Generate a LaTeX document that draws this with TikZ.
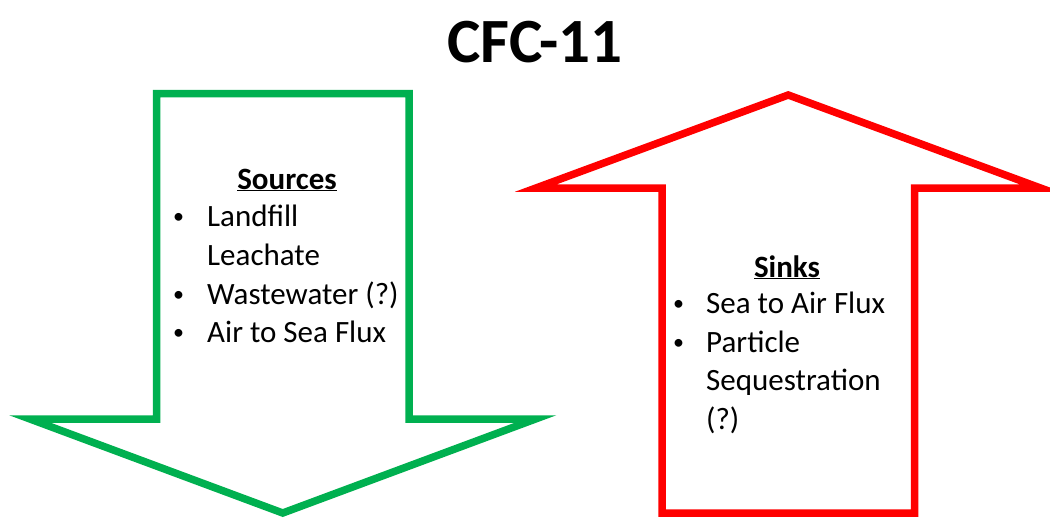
\documentclass[tikz,border=0pt]{standalone}
\usepackage{fontspec}
\setmainfont{Carlito}
\definecolor{ogreen}{HTML}{00B050}
\definecolor{ored}{HTML}{FF0000}
\newcommand{\blt}{{\fontsize{22}{22}\selectfont\raisebox{2.5pt}{•}}}
\begin{document}
\begin{tikzpicture}[x=1pt,y=-1pt,
  arrowline/.style={line width=7.5pt, line join=miter, miter limit=10},
  txt/.style={anchor=base west, inner sep=0pt, font=\fontsize{31}{37}\selectfont},
  head/.style={anchor=base, inner sep=0pt, font=\fontsize{31}{37}\selectfont\bfseries}]
\useasboundingbox (0,0) rectangle (1050,517);
\fill[white] (0,0) rectangle (1050,517);
\node[anchor=base, inner sep=0pt, font=\fontsize{63}{70}\selectfont\bfseries] (title) at (535,62) {CFC-11};
% green down arrow (sources)
\draw[ogreen, arrowline] (156.5,93.5) -- (409,93.5) -- (409,419) -- (535.5,419) -- (282.75,513) -- (30,419) -- (156.5,419) -- cycle;
% red up arrow (sinks)
\draw[ored, arrowline] (662,513) -- (662,188) -- (536,188) -- (788.25,95) -- (1040.5,188) -- (914.5,188) -- (914.5,513) -- cycle;
% sources text
\node[head] (srch) at (287,189) {\underline{Sources}};
\node[txt] (sb1) at (173,226) {\blt};
\node[txt] (s1) at (207,226) {Landfill};
\node[txt] (s1b) at (207,265) {Leachate};
\node[txt] (sb2) at (173,304) {\blt};
\node[txt] (s2) at (207,304) {Wastewater (?)};
\node[txt] (sb3) at (173,342) {\blt};
\node[txt] (s3) at (207,342) {Air to Sea Flux};
% sinks text
\node[head] (snkh) at (787,277) {\underline{Sinks}};
\node[txt] (kb1) at (673,313) {\blt};
\node[txt] (k1) at (706,313) {Sea to Air Flux};
\node[txt] (kb2) at (673,352) {\blt};
\node[txt] (k2) at (706,352) {Particle};
\node[txt] (k2b) at (706,390) {Sequestration};
\node[txt] (k2c) at (706,429) {(?)};
\end{tikzpicture}
\end{document}
